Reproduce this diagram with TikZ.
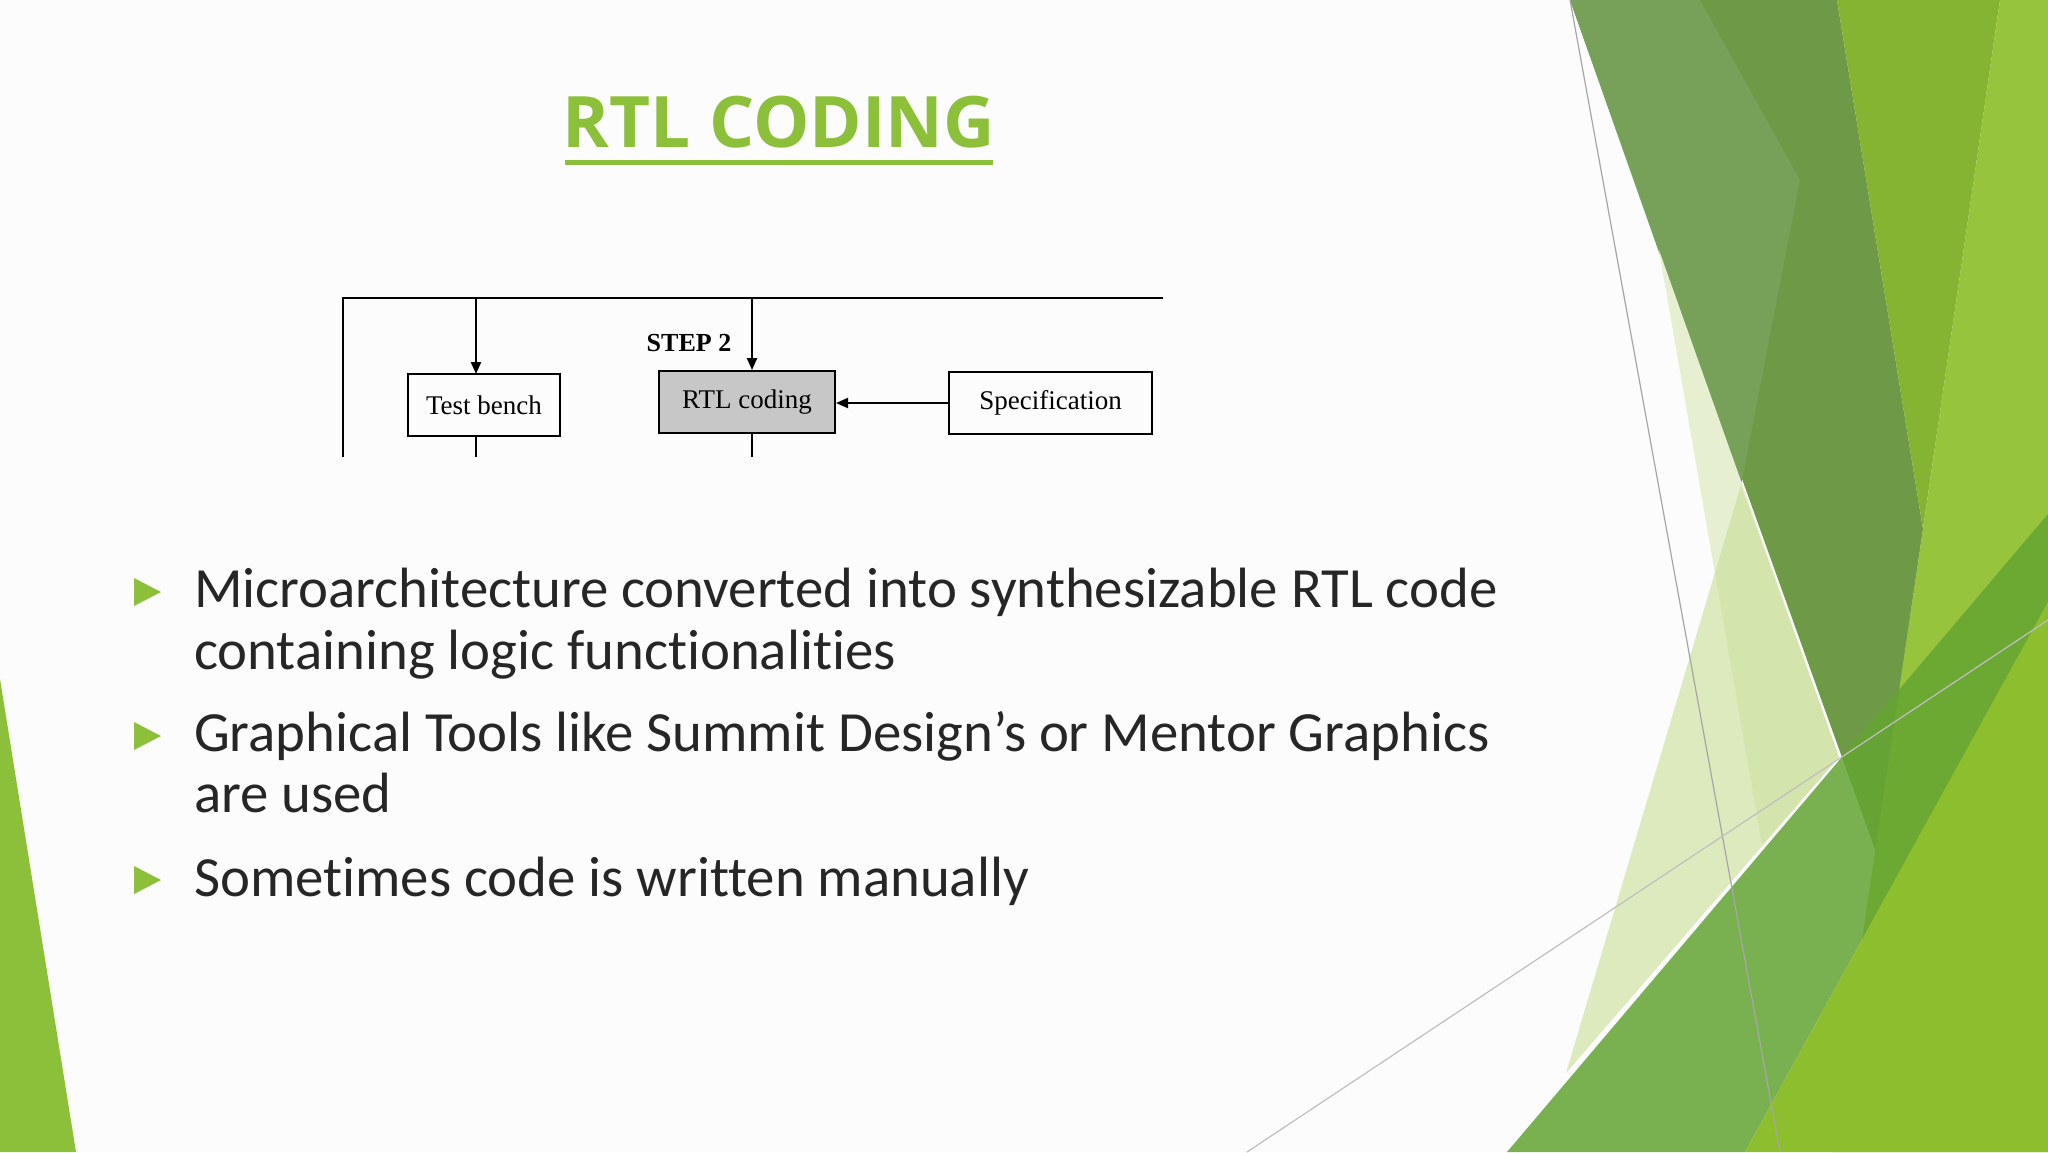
\documentclass[tikz,border=0pt]{standalone}
\usepackage{fontspec}
\setmainfont[Ligatures=NoCommon]{Carlito}
\newfontfamily\serifx{Liberation Serif}
\newfontfamily\titlefont{Open Sans}
\usetikzlibrary{arrows.meta}
\definecolor{lime}{HTML}{8DC03A}
\tikzset{
  box/.style={draw=black,line width=1pt,minimum height=31pt,inner sep=0pt,font=\serifx\fontsize{13.5}{15}\selectfont},
  wire/.style={line width=1pt},
  arr/.style={wire,-{Triangle[length=6pt,width=5pt]}},
  bul/.style={anchor=base west,font=\fontsize{28.4}{32}\selectfont,text=black!85},
}
\begin{document}
\begin{tikzpicture}[x=0.5pt,y=-0.5pt]
\useasboundingbox (0,0) rectangle (2048,1152);
\fill[white!98!gray] (0,0) rectangle (2048,1152);
% decoration
\fill[lime] (0,679) -- (76,1152) -- (0,1152) -- cycle;
\fill[color={rgb,255:red,110;green,154;blue,72}] (1570,0) -- (1837,0) -- (1923,529) -- (1876,852) -- cycle;
\fill[color={rgb,255:red,119;green,160;blue,88}] (1570,0) -- (1700,0) -- (1800,180) -- (1741,485) -- cycle;
\fill[color={rgb,255:red,132;green,180;blue,49}] (1837,0) -- (2000,0) -- (1923,529) -- cycle;
\fill[color={rgb,255:red,150;green,196;blue,60}] (2000,0) -- (2048,0) -- (2048,1152) -- (1832,1152) -- (1863,933) -- (1923,529) -- cycle;
\fill[color={rgb,255:red,230;green,239;blue,208}] (1659,250) -- (1839,757) -- (1762,845) -- cycle;
\fill[color={rgb,255:red,200;green,222;blue,150},opacity=0.6] (1741,485) -- (1839,757) -- (1566,1073) -- cycle;
\fill[color={rgb,255:red,100;green,165;blue,50},opacity=0.85] (1507,1152) -- (2048,514) -- (2048,602) -- (1745,1152) -- cycle;
\fill[color={rgb,255:red,141;green,190;blue,46}] (1745,1152) -- (2048,602) -- (2048,1152) -- cycle;
\draw[gray!70,line width=0.6pt] (1570,0) -- (1780,1152);
\draw[gray!50,line width=0.6pt] (1247,1152) -- (2048,620);
% title
\node[font=\titlefont\bfseries\fontsize{35.5}{40}\selectfont,text=lime] (title) at (779,122) {RTL CODING};
\draw[lime,line width=2.5pt] (565,162) -- (993,162);
% diagram
\node[box,minimum width=76pt] (tb) at (484,405) {Test bench};
\node[box,minimum width=88pt,fill=black!22] (rtl) at (747,402) {RTL coding};
\node[box,minimum width=101.5pt] (spec) at (1050.5,403) {Specification};
\node[font=\serifx\bfseries\fontsize{13}{15}\selectfont] (step) at (689,343) {STEP 2};
\coordinate (tl) at (343,298);
\coordinate (tr) at (1163,298);
\coordinate (bl) at (343,457);
\draw[wire] (bl) -- (tl) -- (tr);
\draw[arr] (476,298) -- (476,374);
\draw[arr] (752,298) -- (752,370);
\draw[arr] (spec.west) -- (spec.west -| rtl.east);
\draw[wire] (476,436) -- (476,457);
\draw[wire] (752,434) -- (752,457);
% bullets
\foreach \y in {592,736,880} \fill[lime] (134,\y-14) -- (161,\y) -- (134,\y+14) -- cycle;
\node[bul] (b1) at (187,607) {Microarchitecture converted into synthesizable RTL code};
\node[bul] (b1b) at (187,669) {containing logic functionalities};
\node[bul] (b2) at (187,751) {Graphical Tools like Summit Design’s or Mentor Graphics};
\node[bul] (b2b) at (187,812) {are used};
\node[bul] (b3) at (187,896) {Sometimes code is written manually};
\end{tikzpicture}
\end{document}
